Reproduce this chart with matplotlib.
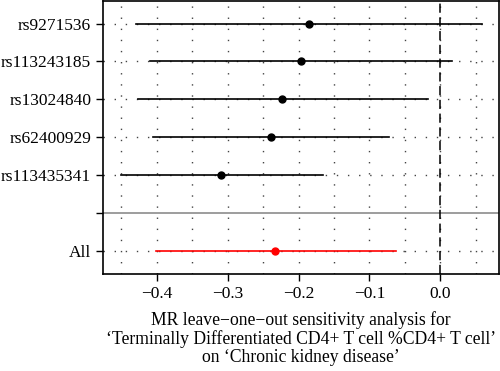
import matplotlib
matplotlib.use("Agg")
import matplotlib.pyplot as plt
import numpy as np

# datos (leave-one-out)
snps = ["rs9271536", "rs113243185", "rs13024840", "rs62400929", "rs113435341", "All"]
beta = [-0.185, -0.197, -0.223, -0.239, -0.310, -0.233]
ci_low = [-0.429, -0.409, -0.427, -0.406, -0.450, -0.401]
ci_high = [0.059, 0.016, -0.017, -0.072, -0.166, -0.063]
x_ticks = [-0.4, -0.3, -0.2, -0.1, 0.0]

plt.rcParams['font.family'] = ['Liberation Serif', 'DejaVu Serif']

fig = plt.figure(figsize=(5, 3.71), dpi=100)
ax = fig.add_axes([0.206, 0.2615, 0.792, 0.737])

# posiciones: SNPs arriba, separador, "All" abajo
y_pos = [7, 6, 5, 4, 3, 1]
sep = 2

# rejilla punteada
for gx in np.arange(-0.45, 0.1, 0.05):
    ax.axvline(gx, color='#444444', lw=1.0, ls=(0, (1, 7)), zorder=0)
for gy in y_pos:
    ax.axhline(gy, color='#444444', lw=1.0, ls=(0, (1, 7)), zorder=0)

ax.axhline(sep, color='#8c8c8c', lw=1.2, zorder=1)
ax.axvline(0, color='black', lw=1.1, ls=(0, (6, 3)), zorder=3)

for i in range(len(snps)):
    col = 'red' if snps[i] == 'All' else 'black'
    ax.plot([ci_low[i], ci_high[i]], [y_pos[i], y_pos[i]], color=col, lw=1.2, zorder=2)
    ax.plot(beta[i], y_pos[i], 'o', color=col, ms=5, zorder=4)

ax.set_xlim(-0.476, 0.083)
ax.set_ylim(0.395, 7.605)
ax.set_xticks(x_ticks)
ax.set_xticklabels(['\u22120.4', '\u22120.3', '\u22120.2', '\u22120.1', '0.0'])
ax.set_yticks(y_pos + [sep])
ax.set_yticklabels(snps + [''])
ax.tick_params(labelsize=12.5, length=5, width=1, direction='out')
for s in ax.spines.values():
    s.set_linewidth(1.2)

ax.set_xlabel('MR leave\u2212one\u2212out sensitivity analysis for\n'
              '\u2018Terminally Differentiated CD4+ T cell %CD4+ T cell\u2019\n'
              'on \u2018Chronic kidney disease\u2019', fontsize=12.7, linespacing=1.08, labelpad=7)

fig.savefig('out.png', dpi=100)
